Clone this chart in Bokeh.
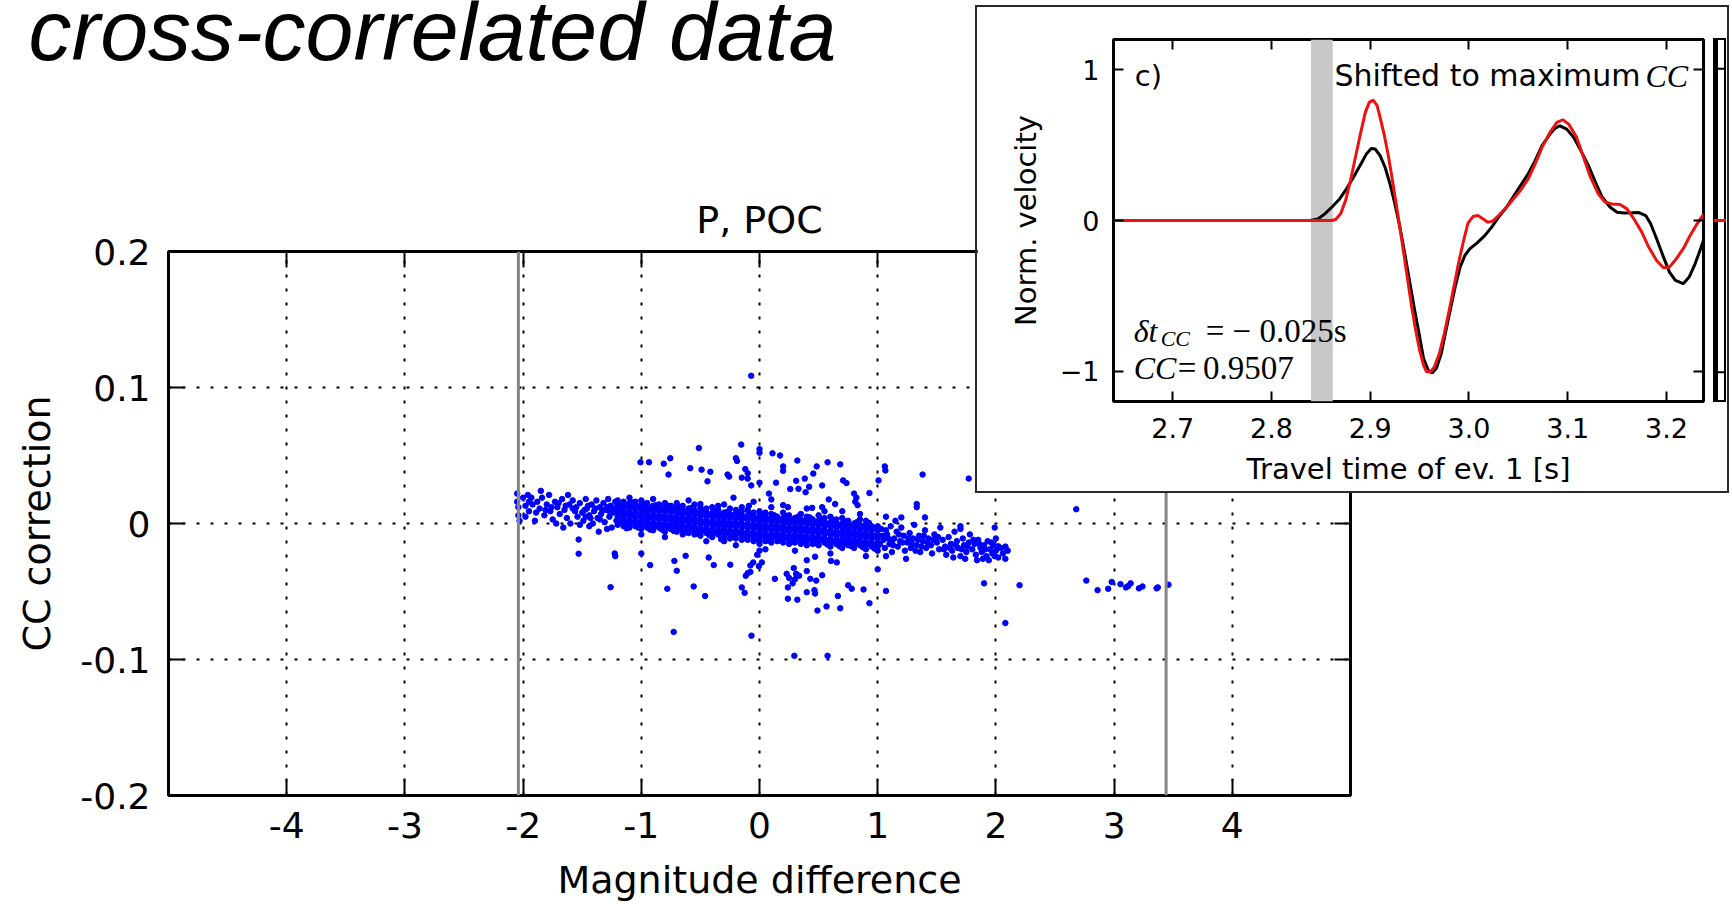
from bokeh.plotting import figure
from bokeh.models import (Range1d, FixedTicker, LinearAxis, Span, Label,
                          BoxAnnotation, CustomJSTickFormatter)
from bokeh.embed import file_html
from bokeh.resources import INLINE

# ---------------- texts ----------------
page_title = "cross-correlated data"
main_title = "P, POC"
main_xlabel = "Magnitude difference"
main_ylabel = "CC correction"
inset_xlabel = "Travel time of ev. 1 [s]"
inset_ylabel = "Norm. velocity"

# ---------------- main scatter: ticks ----------------
x_ticks = [-4, -3, -2, -1, 0, 1, 2, 3, 4]
y_ticks = [-0.2, -0.1, 0.0, 0.1, 0.2]
limit_lines = [-2.04, 3.44]

# dense band: column positions and the values read in each column
core_col_x = [-1.20, -1.15, -1.10, -1.05, -1.00, -0.95, -0.90, -0.85, -0.80, -0.75,
              -0.70, -0.65, -0.60, -0.55, -0.50, -0.45, -0.40, -0.35, -0.30, -0.25,
              -0.20, -0.15, -0.10, -0.05, 0.00, 0.05, 0.10, 0.15, 0.20, 0.25,
              0.30, 0.35, 0.40, 0.45, 0.50, 0.55, 0.60, 0.65, 0.70, 0.75,
              0.80, 0.85, 0.90, 0.95, 1.00]
core_col_y = [
    [.014, .011, .008, .005, .002, -.001, .017],
    [.013, .010, .007, .004, .001, -.002, .016],
    [.015, .012, .009, .006, .003, .000, -.003],
    [.013, .010, .007, .004, .001, -.002, .016],
    [.014, .011, .008, .005, .002, -.001, -.004, .017],
    [.012, .009, .006, .003, .000, -.003, .015],
    [.013, .010, .007, .004, .001, -.002, -.005],
    [.012, .009, .006, .003, .000, -.003, .014],
    [.012, .009, .006, .003, .000, -.003, -.006, .015],
    [.011, .008, .005, .002, -.001, -.004, .013],
    [.012, .009, .006, .003, .000, -.003, -.006],
    [.010, .007, .004, .001, -.002, -.005, .013, -.008],
    [.011, .008, .005, .002, -.001, -.004, -.007],
    [.010, .007, .004, .001, -.002, -.005, -.008, .014],
    [.009, .006, .003, .000, -.003, -.006, -.009, .012],
    [.008, .005, .002, -.001, -.004, -.007, .011],
    [.008, .005, .002, -.001, -.004, -.007, -.010, .012],
    [.007, .004, .001, -.002, -.005, -.008, .010],
    [.008, .005, .002, -.001, -.004, -.007, -.010, -.013],
    [.007, .004, .001, -.002, -.005, -.008, .011, -.011],
    [.007, .004, .001, -.002, -.005, -.008, -.011, .010],
    [.006, .003, .000, -.003, -.006, -.009, -.012, .009],
    [.006, .003, .000, -.003, -.006, -.009, -.012, .010],
    [.005, .002, -.001, -.004, -.007, -.010, -.013, .008],
    [.006, .003, .000, -.003, -.006, -.009, -.012, -.015, .009],
    [.005, .002, -.001, -.004, -.007, -.010, -.013, .008],
    [.004, .001, -.002, -.005, -.008, -.011, -.014, .007],
    [.005, .002, -.001, -.004, -.007, -.010, -.013],
    [.004, .001, -.002, -.005, -.008, -.011, -.014, .008],
    [.003, .000, -.003, -.006, -.009, -.012, .006, -.015],
    [.004, .001, -.002, -.005, -.008, -.011, -.014],
    [.003, .000, -.003, -.006, -.009, -.012, -.015, .007],
    [.002, -.001, -.004, -.007, -.010, -.013, .005, -.016],
    [.003, .000, -.003, -.006, -.009, -.012, -.015],
    [.002, -.001, -.004, -.007, -.010, -.013, -.016, .006],
    [.001, -.002, -.005, -.008, -.011, -.014, .004],
    [.001, -.002, -.005, -.008, -.011, -.014, -.017, .005],
    [.000, -.003, -.006, -.009, -.012, -.015, .003],
    [.000, -.003, -.006, -.009, -.012, -.015, -.018, .004],
    [-.001, -.004, -.007, -.010, -.013, -.016, .002],
    [.000, -.003, -.006, -.009, -.012, -.015, -.018],
    [-.001, -.004, -.007, -.010, -.013, -.016, .003],
    [-.001, -.004, -.007, -.010, -.013, -.016, -.019, .002],
    [-.002, -.005, -.008, -.011, -.014, -.017],
    [-.002, -.005, -.008, -.011, -.014, -.017, -.020],
]
core2_col_x = [-1.175, -1.125, -1.075, -1.025, -0.975, -0.925, -0.875, -0.825, -0.775, -0.725,
               -0.675, -0.625, -0.575, -0.525, -0.475, -0.425, -0.375, -0.325, -0.275, -0.225,
               -0.175, -0.125, -0.075, -0.025, 0.025, 0.075, 0.125, 0.175, 0.225, 0.275,
               0.325, 0.375, 0.425, 0.475, 0.525, 0.575, 0.625, 0.675, 0.725, 0.775,
               0.825, 0.875, 0.925, 0.975]
core2_col_y = [
    [.0135, .0075, .0015, .0105], [.013, .007, .001, -.0035],
    [.0125, .0065, .0005, .0155], [.012, .006, .000, -.003],
    [.0115, .0055, -.0005, .0145], [.011, .005, -.001, -.0045],
    [.0105, .0045, -.0015, .0135], [.0105, .0045, -.0015, -.0045],
    [.010, .004, -.002, .013], [.0095, .0035, -.0025, -.0055],
    [.009, .003, -.003, .012], [.0085, .0025, -.0035, -.0065],
    [.008, .002, -.004, .0115], [.0075, .0015, -.0045, -.0075],
    [.007, .001, -.005, .0095], [.0065, .0005, -.0055, -.0085],
    [.006, .000, -.006, .009], [.006, .000, -.006, -.0115],
    [.0055, -.0005, -.0065, .0085], [.0055, -.0005, -.0065, -.0095],
    [.005, -.001, -.007, .008], [.0045, -.0015, -.0075, -.0105],
    [.004, -.002, -.008, .007], [.0035, -.0025, -.0085, -.0115],
    [.003, -.003, -.009, .0065], [.003, -.003, -.009, -.0125],
    [.0025, -.0035, -.0095, .006], [.0025, -.0035, -.0095, -.0125],
    [.002, -.004, -.010, .0055], [.002, -.004, -.010, -.0135],
    [.0015, -.0045, -.0105, .005], [.0015, -.0045, -.0105, -.0135],
    [.001, -.005, -.011, .0045], [.0005, -.0055, -.0115, -.0145],
    [.000, -.006, -.012, .0035], [-.0005, -.0065, -.0125, -.0155],
    [-.001, -.007, -.013, .0025], [-.001, -.007, -.013, -.0165],
    [-.0015, -.0075, -.0135, .0015], [-.002, -.008, -.014, -.0165],
    [-.002, -.008, -.014, .001], [-.0025, -.0085, -.0145, -.0175],
    [-.003, -.009, -.015, .0005], [-.0035, -.0095, -.0155, -.0185],
]

left_x = [-2.05, -2.05, -2.04, -2.04, -2.03, -2.00, -1.98, -1.98, -1.96, -1.95,
          -1.95, -1.92, -1.90, -1.88, -1.86, -1.85, -1.84, -1.82, -1.80, -1.78,
          -1.77, -1.75, -1.73, -1.72, -1.71, -1.69, -1.67, -1.66, -1.65, -1.63,
          -1.62, -1.61, -1.60, -1.58, -1.56, -1.55, -1.54, -1.52, -1.52, -1.50,
          -1.49, -1.47, -1.46, -1.44, -1.44, -1.42, -1.41, -1.40, -1.38, -1.37,
          -1.36, -1.35, -1.34, -1.32, -1.31, -1.30, -1.29, -1.28, -1.27, -1.26,
          -1.25, -1.24, -1.22, -1.21, -1.48, -1.45, -1.43, -1.39, -1.33, -1.29,
          -1.23, -1.47, -1.35, -1.27, -1.58, -1.64, -1.70, -1.76, -1.81, -1.89,
          -1.93]
left_y = [.022, .016, .012, .006, .002, .019, .013, .005, .021, .009,
          .016, .014, .002, .016, .011, .024, .019, .006, .014, .021,
          .009, .003, .016, .000, .012, .007, .018, -.003, .010, .004,
          .021, .014, .000, .017, .009, .012, .005, .015, -.001, .008,
          .002, .018, .011, .006, -.002, .014, .000, .009, .017, .004,
          -.006, .012, .007, .015, .001, .010, -.004, .018, .005, .013,
          -.003, .008, .016, .002, .010, .013, .004, .011, .010, .012,
          .011, .005, .003, .009, .011, .013, .015, .012, .010, .008,
          .019]

right_x = [1.03, 1.05, 1.06, 1.08, 1.10, 1.11, 1.12, 1.14, 1.16, 1.17,
           1.19, 1.20, 1.22, 1.23, 1.25, 1.27, 1.28, 1.30, 1.31, 1.33,
           1.35, 1.36, 1.38, 1.40, 1.41, 1.43, 1.45, 1.46, 1.48, 1.50,
           1.52, 1.53, 1.55, 1.57, 1.58, 1.60, 1.62, 1.63, 1.65, 1.67,
           1.68, 1.70, 1.72, 1.73, 1.75, 1.77, 1.78, 1.80, 1.82, 1.83,
           1.85, 1.87, 1.88, 1.90, 1.92, 1.93, 1.95, 1.97, 1.98, 2.00,
           2.02, 2.04, 2.06, 2.08, 2.10, 1.04, 1.09, 1.13, 1.18, 1.21,
           1.26, 1.29, 1.34, 1.37, 1.42, 1.47, 1.51, 1.56, 1.61, 1.66,
           1.71, 1.76, 1.81, 1.86, 1.91, 1.96, 1.99, 1.64, 1.74, 1.84,
           1.89, 1.94, 1.07, 1.24, 1.15, 1.02, 1.07, 1.12, 1.32, 1.39]
right_y = [-.004, -.012, -.018, -.008, -.015, -.002, -.021, -.011, -.006, -.017,
           -.013, -.003, -.009, -.020, -.014, -.007, -.018, -.011, -.001, -.016,
           -.009, -.021, -.013, -.005, -.018, -.011, -.016, -.022, -.008, -.014,
           -.019, -.003, -.012, -.017, -.023, -.010, -.015, -.020, -.006, -.013,
           -.018, -.024, -.011, -.016, -.021, -.014, -.008, -.019, -.015, -.023,
           -.012, -.018, -.021, -.016, -.024, -.013, -.019, -.022, -.016, -.020,
           -.025, -.018, -.022, -.017, -.020, -.009, -.011, -.016, -.008, -.014,
           -.011, -.015, -.012, -.017, -.014, -.012, -.010, -.019, -.018, -.016,
           -.019, -.017, -.012, -.015, -.019, -.014, -.024, -.025, -.026, -.027,
           -.026, -.027, -.024, -.026, .002, -.015, -.005, -.013, -.020, -.009]

fringe_x = [-0.9, -0.6, -0.3, 0.1, 0.4, 0.7, -0.8, -0.45, 0.05, 0.3,
            0.6, 0.9, -1.0, -0.2, 0.55, 0.85, -1.1, -0.7, -0.35, -0.15]
fringe_y = [.018, .017, .014, .012, .011, .009, -.010, -.013, -.019, -.020,
            -.022, -.024, -.008, -.016, .009, .007, .019, .015, .013, .012]

upper_x = [-0.07, -0.155, -0.513, 0.0, 0.0, 0.11, 0.174, 0.32, -0.20, -0.19,
           -0.755, -1.007, -0.935, -0.81, 0.576, 0.683, 0.484, 1.06, 1.065, 0.20,
           0.20, -0.586, -0.49, -0.416, -0.12, -0.10, -0.27, -0.257, -0.15, -0.10,
           1.38, 1.77, 0.455, 0.383, 0.31, 0.14, 0.0, -0.07, 1.007, 0.707,
           0.736, -0.77, -0.44, 0.26, 0.33, 0.39, 0.42, 0.53, 0.08, 0.10,
           0.80, 0.82, 0.81, 0.83, 0.93, 0.586, 0.64, 0.53, 0.445, 0.20,
           0.24, -0.05, -0.09, -0.22, -0.50, 1.33, 1.33, 1.07, 1.20, 1.40,
           1.70, 1.70, 1.99, 2.68]
upper_y = [.1086, .058, .0555, .0547, .052, .0516, .050, .0463, .048, .046,
           .048, .045, .045, .044, .045, .0435, .042, .042, .039, .042,
           .0387, .0407, .0396, .038, .040, .037, .036, .0345, .0337, .033,
           .036, .033, .0367, .033, .0314, .030, .030, .028, .0317, .0317,
           .0297, .036, .031, .0253, .0255, .023, .027, .028, .022, .0177,
           .022, .019, .016, .0135, .0224, .0177, .0143, .012, .0115, .0135,
           .012, .016, .013, .019, .0143, .0143, .012, .005, .0045, .0045,
           -.002, -.004, -.003, .0105]

lower_x = [-1.53, -1.53, -1.225, -1.22, -1.0, -0.925, -0.72, -0.70, -0.625, -0.43,
           -0.387, -0.247, -0.077, -0.077, -0.053, -0.005, 0.02, -0.116, -0.10, -0.02,
           0.0, 0.13, 0.23, 0.25, 0.28, 0.24, 0.31, 0.30, 0.29, 0.335,
           0.40, 0.43, 0.48, 0.53, 0.47, 0.40, -0.15, -0.126, 0.24, 0.32,
           0.40, 0.465, 0.47, 0.49, 0.567, 0.663, 0.683, 0.75, 0.78, 0.88,
           0.93, 0.605, 0.654, 1.0, 1.07, -1.26, -0.78, -0.557, -0.46, -0.726,
           -0.068, 0.295, 0.576, 1.9, 2.2, 2.08, 2.08, 2.08, 2.02, 2.0]
lower_y = [-.0118, -.0222, -.022, -.024, -.022, -.0306, -.0275, -.0348, -.0238, -.025,
           -.0306, -.0303, -.0308, -.0356, -.0286, -.0314, -.0286, -.0384, -.0365, -.023,
           -.020, -.0407, -.037, -.040, -.044, -.047, -.037, -.041, -.0328, -.0384,
           -.035, -.0407, -.042, -.038, -.0244, -.027, -.047, -.051, -.0553, -.056,
           -.0505, -.049, -.0515, -.064, -.061, -.0533, -.0623, -.0454, -.048, -.0485,
           -.0586, -.0275, -.0286, -.0337, -.0496, -.0468, -.048, -.0463, -.0533, -.0797,
           -.0825, -.0973, -.0973, -.044, -.0454, -.0732, -.026, -.0174, -.0168, -.011]

far_x = [2.765, 2.86, 2.95, 2.98, 3.054, 3.10, 3.12, 3.14, 3.21, 3.24, 3.36, 3.37, 3.46]
far_y = [-.042, -.049, -.048, -.043, -.0446, -.047, -.046, -.044, -.0477, -.0463,
         -.0477, -.047, -.045]

# ---------------- inset: waveforms ----------------
inset_x_ticks = [2.7, 2.8, 2.9, 3.0, 3.1, 3.2]
inset_y_ticks = [-1, 0, 1]
cc_window = (2.84, 2.862)

t_black = [2.64, 2.70, 2.80, 2.839, 2.847, 2.854, 2.861, 2.869, 2.876, 2.883,
           2.891, 2.896, 2.901, 2.905, 2.910, 2.915, 2.920, 2.925, 2.930, 2.935,
           2.940, 2.945, 2.950, 2.954, 2.959, 2.963, 2.967, 2.972, 2.976, 2.981,
           2.986, 2.991, 2.996, 3.001, 3.008, 3.016, 3.023, 3.030, 3.038, 3.045,
           3.052, 3.060, 3.067, 3.074, 3.082, 3.087, 3.092, 3.099, 3.106, 3.113,
           3.121, 3.128, 3.135, 3.143, 3.150, 3.157, 3.165, 3.172, 3.179, 3.184,
           3.190, 3.197, 3.203, 3.209, 3.217, 3.223, 3.229, 3.234, 3.2375]
v_black = [0.0, 0.0, 0.0, 0.0, 0.01, 0.044, 0.088, 0.143, 0.21, 0.287,
           0.38, 0.44, 0.478, 0.474, 0.43, 0.353, 0.243, 0.11, -0.044, -0.22,
           -0.408, -0.595, -0.77, -0.915, -0.997, -1.01, -0.98, -0.88, -0.75, -0.595,
           -0.44, -0.31, -0.23, -0.187, -0.15, -0.10, -0.044, 0.022, 0.088, 0.159,
           0.23, 0.31, 0.397, 0.496, 0.573, 0.61, 0.628, 0.606, 0.551, 0.467,
           0.364, 0.254, 0.154, 0.088, 0.055, 0.049, 0.051, 0.053, 0.033, -0.022,
           -0.121, -0.243, -0.342, -0.397, -0.419, -0.375, -0.287, -0.198, -0.13]

t_red = [2.64, 2.70, 2.80, 2.861, 2.865, 2.870, 2.875, 2.880, 2.885, 2.890,
         2.895, 2.899, 2.903, 2.907, 2.910, 2.914, 2.918, 2.922, 2.926, 2.930,
         2.934, 2.938, 2.942, 2.946, 2.950, 2.954, 2.957, 2.961, 2.965, 2.970,
         2.975, 2.980, 2.985, 2.990, 2.995, 2.999, 3.004, 3.009, 3.014, 3.019,
         3.024, 3.030, 3.038, 3.045, 3.052, 3.060, 3.067, 3.074, 3.082, 3.089,
         3.095, 3.101, 3.109, 3.116, 3.123, 3.131, 3.138, 3.145, 3.153, 3.160,
         3.167, 3.175, 3.182, 3.190, 3.197, 3.203, 3.210, 3.218, 3.224, 3.231,
         3.2375]
v_red = [0.0, 0.0, 0.0, 0.0, 0.007, 0.044, 0.132, 0.265, 0.419, 0.573,
         0.717, 0.783, 0.798, 0.761, 0.684, 0.573, 0.441, 0.287, 0.121, -0.044,
         -0.22, -0.397, -0.573, -0.728, -0.86, -0.959, -1.003, -1.003, -0.97, -0.882,
         -0.75, -0.595, -0.43, -0.265, -0.121, -0.018, 0.026, 0.033, 0.011, -0.011,
         -0.004, 0.033, 0.088, 0.143, 0.198, 0.276, 0.375, 0.485, 0.584, 0.65,
         0.668, 0.639, 0.551, 0.419, 0.287, 0.176, 0.121, 0.11, 0.106, 0.077,
         0.011, -0.077, -0.176, -0.265, -0.313, -0.309, -0.254, -0.176, -0.099, -0.022,
         0.040]

panel_tag = "c)"
shift_note = "Shifted to maximum"
shift_note_cc = "CC"
dt_text = ("\u03b4t", "CC", "= \u2212 0.025s")
cc_text = ("CC", "=\u20090.9507")

# ---------------- build point lists ----------------
all_x, all_y = [], []
for cols_x, cols_y in ((core_col_x, core_col_y), (core2_col_x, core2_col_y)):
    for cx, ys in zip(cols_x, cols_y):
        for yy in ys:
            all_x.append(cx)
            all_y.append(yy)
for xs, ys in ((left_x, left_y), (right_x, right_y), (fringe_x, fringe_y),
               (upper_x, upper_y), (lower_x, lower_y), (far_x, far_y)):
    all_x.extend(xs)
    all_y.extend(ys)

FONT = "DejaVu Sans"
SERIF = "Liberation Serif"


def style_axis(ax, tick_size, label_size, tick_len, standoff, label_standoff):
    ax.major_label_text_font = FONT
    ax.major_label_text_font_size = tick_size
    ax.major_label_text_color = "black"
    ax.axis_label_text_font = FONT
    ax.axis_label_text_font_size = label_size
    ax.axis_label_text_font_style = "normal"
    ax.axis_label_text_color = "black"
    ax.major_tick_in = tick_len
    ax.major_tick_out = 0
    ax.major_tick_line_color = "black"
    ax.major_tick_line_width = 2
    ax.minor_tick_line_color = None
    ax.axis_line_color = None
    ax.major_label_standoff = standoff
    ax.axis_label_standoff = label_standoff


def tick_only_axis(ticks, tick_len):
    ax = LinearAxis(ticker=FixedTicker(ticks=ticks),
                    formatter=CustomJSTickFormatter(code="return '';"))
    ax.major_label_text_font_size = "2px"
    ax.major_label_standoff = 0
    ax.major_tick_in = tick_len
    ax.major_tick_out = 0
    ax.major_tick_line_color = "black"
    ax.major_tick_line_width = 2
    ax.minor_tick_line_color = None
    ax.axis_line_color = None
    return ax


def note(fig, x, y, text, font, size, style="normal", align="left"):
    fig.add_layout(Label(x=x, y=y, text=text, text_font=font, text_font_size=size,
                         text_font_style=style, text_baseline="middle",
                         text_align=align, text_color="black"))


# ---------------- main figure ----------------
p = figure(width=1732, height=904, output_backend="svg", toolbar_location=None,
           x_range=Range1d(-5, 5), y_range=Range1d(-0.2, 0.2),
           min_border_left=168, min_border_right=382,
           min_border_top=251, min_border_bottom=109,
           background_fill_color="white", border_fill_color="white",
           outline_line_color="black", outline_line_width=3)
p.title.text = main_title
p.title.align = "center"
p.title.text_font = FONT
p.title.text_font_size = "38px"
p.title.text_font_style = "normal"
p.title.text_color = "black"
p.title.standoff = 20

p.xaxis.ticker = FixedTicker(ticks=x_ticks)
p.xaxis.formatter = CustomJSTickFormatter(code="return tick.toFixed(0);")
p.xaxis.axis_label = main_xlabel
p.yaxis.ticker = FixedTicker(ticks=y_ticks)
p.yaxis.formatter = CustomJSTickFormatter(
    code="return Math.abs(tick) < 1e-9 ? '0' : tick.toFixed(1);")
p.yaxis.axis_label = main_ylabel
style_axis(p.xaxis[0], "36px", "38px", 16, 16, 17)
style_axis(p.yaxis[0], "36px", "38px", 16, 18, 18)
p.add_layout(tick_only_axis(y_ticks, 16), "right")
p.add_layout(tick_only_axis(x_ticks, 16), "above")

p.xgrid.ticker = FixedTicker(ticks=x_ticks)
p.ygrid.ticker = FixedTicker(ticks=y_ticks)
for g in (p.xgrid[0], p.ygrid[0]):
    g.grid_line_color = "black"
    g.grid_line_dash = "3 11"
    g.grid_line_width = 2
    g.grid_line_alpha = 1.0

for loc in limit_lines:
    p.add_layout(Span(location=loc, dimension="height", line_color="#858585",
                      line_width=3))

p.scatter(all_x, all_y, size=5.5, marker="circle", color="#0000ff")

# ---------------- page heading (own small canvas) ----------------
t = figure(title=None, width=960, height=110, output_backend="svg", toolbar_location=None,
           x_range=Range1d(0, 960), y_range=Range1d(0, 110), min_border=0,
           x_axis_location=None, y_axis_location=None, outline_line_color=None,
           background_fill_color="white", border_fill_color="white",
           styles={"position": "absolute", "left": "0px", "top": "0px", "z-index": "1"})
t.xgrid.visible = False
t.ygrid.visible = False
note(t, 28, 81, page_title, "Liberation Sans", "86px", style="italic")

# ---------------- inset figure ----------------
q = figure(title=None, frame_width=590, frame_height=362, output_backend="svg",
           toolbar_location=None,
           x_range=Range1d(2.64, 3.2375), y_range=Range1d(-1.2, 1.2),
           min_border_left=136, min_border_right=24,
           min_border_top=32, min_border_bottom=90,
           background_fill_color="white", border_fill_color="white",
           outline_line_color="black", outline_line_width=3,
           styles={"position": "absolute", "left": "977px", "top": "7px",
                   "outline": "2px solid #2a2a2a", "outline-offset": "0px",
                   "z-index": "2"})
q.xgrid.visible = False
q.ygrid.visible = False
q.xaxis.ticker = FixedTicker(ticks=inset_x_ticks)
q.xaxis.formatter = CustomJSTickFormatter(code="return tick.toFixed(1);")
q.xaxis.axis_label = inset_xlabel
q.yaxis.ticker = FixedTicker(ticks=inset_y_ticks)
q.yaxis.formatter = CustomJSTickFormatter(
    code="return tick < 0 ? '\u2212' + (-tick).toFixed(0) : tick.toFixed(0);")
q.yaxis.axis_label = inset_ylabel
style_axis(q.xaxis[0], "27px", "29px", 10, 16, 11)
style_axis(q.yaxis[0], "27px", "29px", 10, 14, 14)
q.add_layout(tick_only_axis(inset_y_ticks, 10), "right")
q.add_layout(tick_only_axis(inset_x_ticks, 10), "above")

q.add_layout(BoxAnnotation(left=cc_window[0], right=cc_window[1], fill_color="#c8c8c8",
                           fill_alpha=1.0, line_color=None, level="underlay"))
q.line(t_black, v_black, line_color="black", line_width=3)
q.line(t_red, v_red, line_color="#ee1111", line_width=3)

note(q, 2.6615, 0.96, panel_tag, FONT, "29px")
note(q, 3.1737, 0.96, shift_note, FONT, "30px", align="right")
note(q, 3.1787, 0.96, shift_note_cc, SERIF, "32px", style="italic")
note(q, 2.6605, -0.735, dt_text[0], SERIF, "32px", style="italic")
note(q, 2.6878, -0.78, dt_text[1], SERIF, "22px", style="italic")
note(q, 2.7334, -0.735, dt_text[2], SERIF, "33px")
note(q, 2.6605, -0.98, cc_text[0], SERIF, "32px", style="italic")
note(q, 2.705, -0.98, cc_text[1], SERIF, "33px")

# ---------------- neighbouring panel edge ----------------
r = figure(title=None, width=13, height=364, output_backend="svg", toolbar_location=None,
           x_range=Range1d(-0.3, 1), y_range=Range1d(-1.2, 1.2),
           min_border=0, x_axis_location=None, y_axis_location=None,
           background_fill_color="white", border_fill_color="white",
           outline_line_color="black", outline_line_width=3,
           styles={"position": "absolute", "left": "1713px", "top": "38px",
                   "z-index": "3"})
r.xgrid.visible = False
r.ygrid.visible = False
r.add_layout(Span(location=0, dimension="height", line_color="black", line_width=3))
for tk in (1, -1):
    r.add_layout(Span(location=tk, dimension="width", line_color="black", line_width=2))
r.add_layout(Span(location=0, dimension="width", line_color="#ee1111", line_width=3))

with open("out.html", "w") as f:
    f.write(file_html([p, t, q, r], INLINE))
